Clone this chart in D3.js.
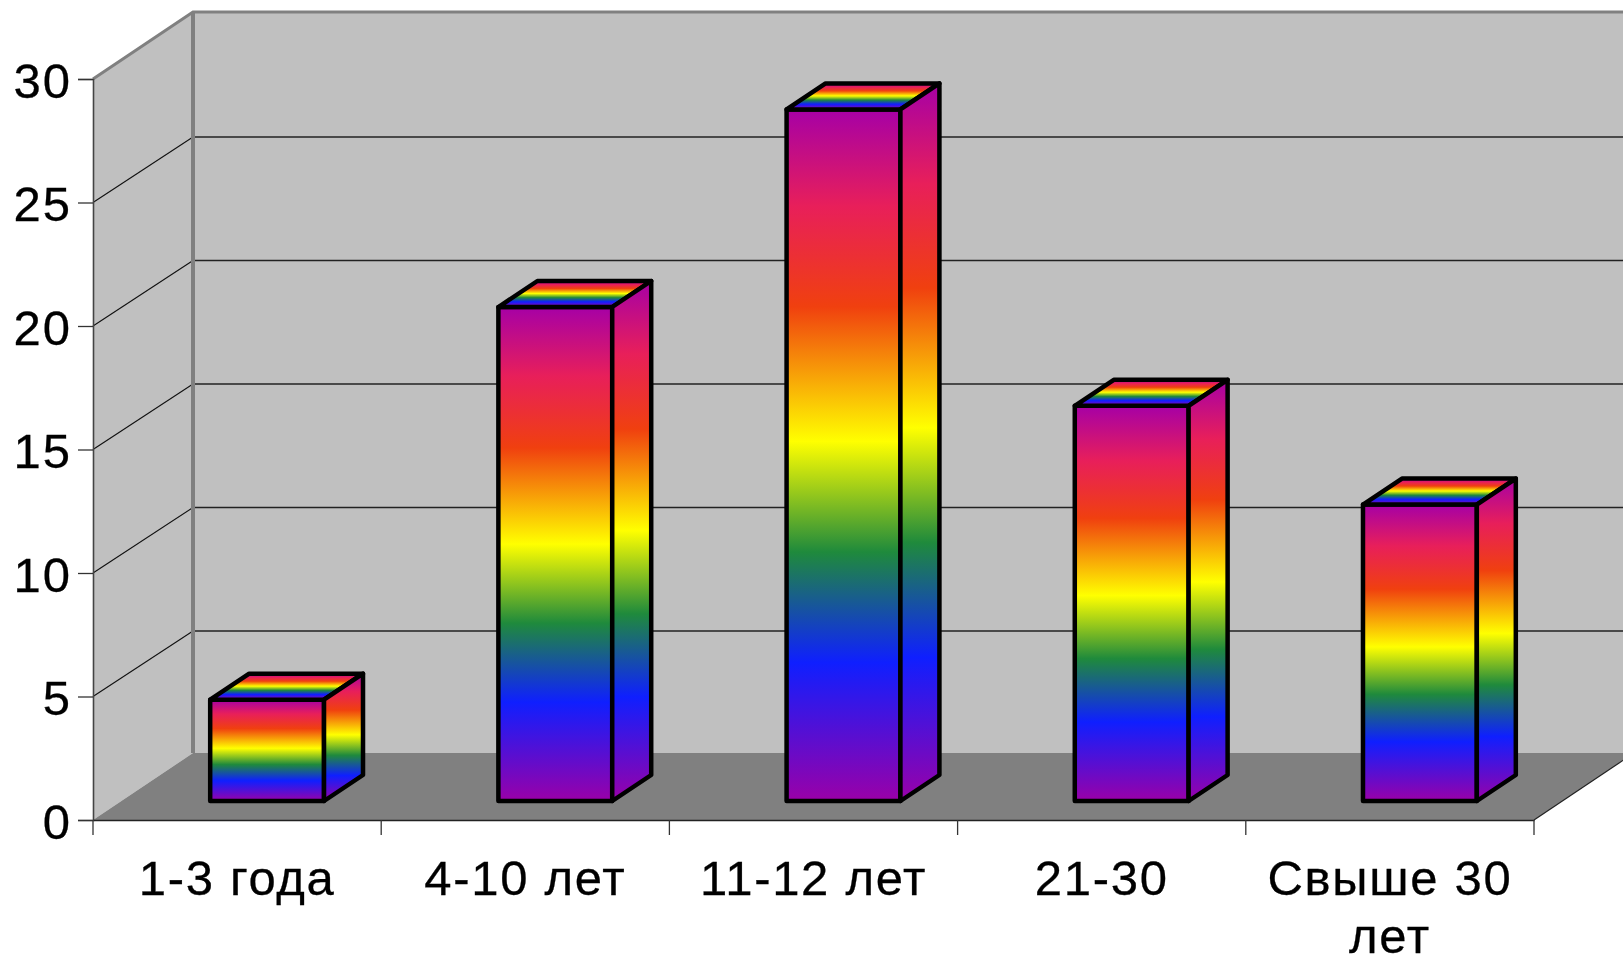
<!DOCTYPE html>
<html>
<head>
<meta charset="utf-8">
<script src="https://cdn.jsdelivr.net/npm/d3@7"></script>
<style>
  html, body { margin: 0; padding: 0; background: #fff; overflow: hidden; }
  svg { display: block; }
  text { font-family: "Liberation Sans", Arial, sans-serif; fill: #000; }
</style>
</head>
<body>
<svg id="chart"></svg>
<script>
// data
const categories = ['1-3 года', '4-10 лет', '11-12 лет', '21-30', 'Свыше 30 лет'];
const values = [4.1, 20, 28, 16, 12];
const yTicks = [0, 5, 10, 15, 20, 25, 30];

// rainbow fill, top to bottom
const rainbowOffsets = [0, 0.14, 0.285, 0.48, 0.64, 0.8, 1];
const rainbowColors = ['#a600a6', '#e81f5a', '#f0400f', '#ffff00', '#1f8a3c', '#0f1fff', '#9a00a8'];

const width = 1623, height = 956;
const margin = { top: 79, left: 93, bottom: 136, right: 89 };
const innerW = width - margin.left - margin.right;
const innerH = height - margin.top - margin.bottom;

// offset of the back wall from the front of the box
const wallDx = 100, wallDy = -67;
// gridlines land a little lower on the back wall than the wall's own corners
const gridDy = -65.5;
// bars stand part way into the box
const barFrontDx = 30, barFrontDy = -19;
const barDepthDx = 39, barDepthDy = -26;

const svg = d3.select('#chart').attr('width', width).attr('height', height);
const chart = svg.append('g').attr('transform', `translate(${margin.left},${margin.top})`);

const xScale = d3.scaleBand().domain(categories).range([0, innerW]).paddingInner(0.605).paddingOuter(0.3025);
const yScale = d3.scaleLinear().domain([0, 30]).range([innerH, 0]);

const defs = svg.append('defs');
const grad = defs.append('linearGradient').attr('id', 'rainbow')
    .attr('x1', 0).attr('y1', 0).attr('x2', 0).attr('y2', 1);
rainbowOffsets.forEach((o, i) => {
    grad.append('stop').attr('offset', o).attr('stop-color', rainbowColors[i]);
});

const poly = pts => pts.map(p => p.join(',')).join(' ');

// walls and floor
const y0 = yScale(0), y30 = yScale(30);
chart.append('polygon').attr('points', poly([[0, y30], [wallDx, y30 + wallDy], [wallDx, y0 + wallDy], [0, y0]]))
    .attr('fill', '#c0c0c0');
chart.append('polygon').attr('points', poly([[wallDx, y30 + wallDy], [innerW + wallDx, y30 + wallDy], [innerW + wallDx, y0 + wallDy], [wallDx, y0 + wallDy]]))
    .attr('fill', '#c0c0c0');
chart.append('polygon').attr('points', poly([[0, y0], [innerW, y0], [innerW + wallDx, y0 + wallDy], [wallDx, y0 + wallDy]]))
    .attr('fill', '#808080');

// gridlines
yTicks.filter(t => t > 0 && t < 30).forEach(t => {
    const y = yScale(t);
    chart.append('line').attr('x1', 0).attr('y1', y).attr('x2', wallDx).attr('y2', y + gridDy)
        .attr('stroke', '#111').attr('stroke-width', 1.1);
    chart.append('line').attr('x1', wallDx).attr('y1', y + gridDy).attr('x2', innerW + wallDx).attr('y2', y + gridDy)
        .attr('stroke', '#222').attr('stroke-width', 1.5);
});

// wall edges
chart.append('polyline').attr('points', poly([[0, y30], [wallDx, y30 + wallDy], [innerW + wallDx, y30 + wallDy]]))
    .attr('fill', 'none').attr('stroke', '#808080').attr('stroke-width', 3);
chart.append('line').attr('x1', wallDx).attr('y1', y30 + wallDy).attr('x2', wallDx).attr('y2', y0 + wallDy)
    .attr('stroke', '#808080').attr('stroke-width', 4);
chart.append('line').attr('x1', innerW).attr('y1', y0).attr('x2', innerW + wallDx).attr('y2', y0 + wallDy)
    .attr('stroke', '#222').attr('stroke-width', 1.2);

// bars
const bars = chart.selectAll('g.bar')
    .data(categories.map((c, i) => ({ cat: c, val: values[i] })))
    .enter().append('g').attr('class', 'bar');

const corners = d => {
    const l = xScale(d.cat) + barFrontDx, r = l + xScale.bandwidth();
    const t = yScale(d.val) + barFrontDy, b = y0 + barFrontDy;
    return { l, r, t, b };
};

bars.each(function (d) {
    const g = d3.select(this), c = corners(d);
    const faces = [
        [[c.l, c.t], [c.r, c.t], [c.r, c.b], [c.l, c.b]],
        [[c.l, c.t], [c.l + barDepthDx, c.t + barDepthDy], [c.r + barDepthDx, c.t + barDepthDy], [c.r, c.t]],
        [[c.r, c.t], [c.r + barDepthDx, c.t + barDepthDy], [c.r + barDepthDx, c.b + barDepthDy], [c.r, c.b]]
    ];
    faces.forEach(f => {
        g.append('polygon').attr('points', poly(f))
            .attr('fill', 'url(#rainbow)')
            .attr('stroke', '#000').attr('stroke-width', 4.5).attr('stroke-linejoin', 'round');
    });
});

// axes
const yAxis = d3.axisLeft(yScale).tickValues(yTicks).tickSize(15).tickPadding(6);
const yAxisGroup = chart.append('g').attr('class', 'axis y-axis').call(yAxis);
yAxisGroup.select('.domain').attr('stroke', '#444').attr('stroke-width', 1.6);
yAxisGroup.selectAll('.tick line').attr('stroke', '#333').attr('stroke-width', 1.3);
yAxisGroup.selectAll('text').attr('font-size', 49).attr('font-family', '"Liberation Sans"')
    .attr('letter-spacing', 2).attr('dy', '0.37em').attr('fill', '#000')
    .attr('stroke', '#000').attr('stroke-width', 0.3);

const xAxis = d3.axisBottom(xScale).tickSize(0).tickPadding(0);
const xAxisGroup = chart.append('g').attr('class', 'axis x-axis')
    .attr('transform', `translate(0,${y0})`).call(xAxis);
xAxisGroup.select('.domain').attr('stroke', '#222').attr('stroke-width', 1.3);

// ticks sit between the categories, so they are drawn from the band edges
const step = xScale.step();
const edges = categories.map(c => xScale(c) - step * xScale.paddingInner() / 2).concat(innerW);
xAxisGroup.selectAll('line.edge').data(edges).enter().append('line').attr('class', 'edge')
    .attr('x1', d => d).attr('x2', d => d).attr('y1', 0).attr('y2', 15)
    .attr('stroke', '#333').attr('stroke-width', 1.3);

// long labels go on two lines
xAxisGroup.selectAll('.tick text').each(function (d) {
    const t = d3.select(this).text('').attr('font-size', 49).attr('font-family', '"Liberation Sans"')
        .attr('fill', '#000').attr('letter-spacing', 1.7).attr('y', 75).attr('dy', 0)
        .attr('stroke', '#000').attr('stroke-width', 0.3);
    const words = d.length > 10 ? [d.slice(0, d.lastIndexOf(' ')), d.slice(d.lastIndexOf(' ') + 1)] : [d];
    words.forEach((w, i) => {
        t.append('tspan').attr('x', 0).attr('dy', i === 0 ? 0 : 58).text(w);
    });
});
</script>
</body>
</html>
